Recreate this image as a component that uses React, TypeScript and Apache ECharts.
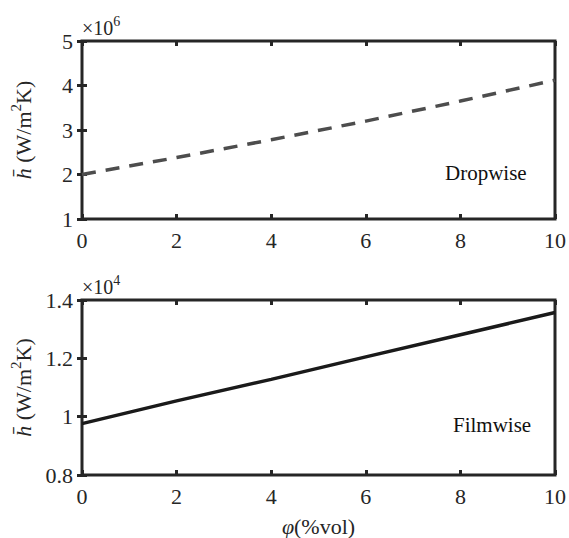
import React, { useEffect, useRef } from "react";
import * as echarts from "echarts";

const phi = [0, 2, 4, 6, 8, 10];
const dropwise = [2.0, 2.38, 2.78, 3.2, 3.65, 4.12]; // ×10^6
const filmwise = [0.976, 1.054, 1.128, 1.205, 1.281, 1.357]; // ×10^4
const xTicks = [0, 2, 4, 6, 8, 10];
const topYTicks = [1, 2, 3, 4, 5];
const botYTicks = [0.8, 1, 1.2, 1.4];

const FONT = "Liberation Serif";
const INK = "#262626";

const yName = {
  rich: {
    i: { fontFamily: FONT, fontStyle: "italic", fontSize: 22, color: INK, lineHeight: 26, verticalAlign: "bottom" },
    n: { fontFamily: FONT, fontSize: 22, color: INK, lineHeight: 26, verticalAlign: "bottom" },
    s: { fontFamily: FONT, fontSize: 15, color: INK, lineHeight: 26, verticalAlign: "top" },
  },
};

export default function App() {
  const ref = useRef<HTMLDivElement>(null);
  useEffect(() => {
    const chart = echarts.init(ref.current!, undefined, { renderer: "svg" });
    const grids = [
      { left: 81, top: 41, width: 478, height: 178 },
      { left: 81, top: 300, width: 478, height: 178 },
    ];
    const mkX = (gi: number, pos: "bottom" | "top", labels: boolean, name?: string) => ({
      type: "value",
      gridIndex: gi,
      position: pos,
      min: 0,
      max: 10,
      interval: 2,
      axisLine: { show: false },
      axisTick: { show: true, inside: true, length: 5, lineStyle: { color: INK, width: 3 } },
      axisLabel: {
        show: labels,
        margin: 10,
        fontFamily: FONT,
        fontSize: 22,
        color: INK,
        formatter: (v: number) => (xTicks.includes(v) ? String(v) : ""),
      },
      splitLine: { show: false },
      name: name,
      nameLocation: "middle",
      nameGap: 40,
      nameTextStyle: name
        ? {
            rich: {
              i: { fontFamily: FONT, fontStyle: "italic", fontSize: 22, color: INK },
              n: { fontFamily: FONT, fontSize: 22, color: INK },
            },
          }
        : undefined,
    });
    const mkY = (
      gi: number,
      pos: "left" | "right",
      labels: boolean,
      min: number,
      max: number,
      interval: number,
      ticks: number[]
    ) => ({
      type: "value",
      gridIndex: gi,
      position: pos,
      min,
      max,
      interval,
      axisLine: { show: false },
      axisTick: { show: true, inside: true, length: 5, lineStyle: { color: INK, width: 3 } },
      axisLabel: {
        show: labels,
        margin: 9,
        fontFamily: FONT,
        fontSize: 22,
        color: INK,
        formatter: (v: number) => {
          const r = Math.round(v * 10) / 10;
          return ticks.some((t) => Math.abs(t - r) < 1e-9) ? String(r) : "";
        },
      },
      splitLine: { show: false },
      name: labels ? "{i|h\u0304}{n| (W/m}{s|2}{n|K)}" : undefined,
      nameLocation: "middle",
      nameGap: 48,
      nameTextStyle: labels ? yName : undefined,
    });

    chart.setOption({
      animation: false,
      backgroundColor: "#ffffff",
      grid: grids.map((g) => ({ ...g, show: true, borderColor: INK, borderWidth: 3, backgroundColor: "transparent" })),
      xAxis: [
        mkX(0, "bottom", true),
        mkX(0, "top", false),
        mkX(1, "bottom", true, "{i|φ}{n|(%vol)}"),
        mkX(1, "top", false),
      ],
      yAxis: [
        mkY(0, "left", true, 1, 5, 1, topYTicks),
        mkY(0, "right", false, 1, 5, 1, topYTicks),
        mkY(1, "left", true, 0.8, 1.4, 0.2, botYTicks),
        mkY(1, "right", false, 0.8, 1.4, 0.2, botYTicks),
      ],
      series: [
        {
          type: "line",
          xAxisIndex: 0,
          yAxisIndex: 0,
          data: phi.map((x, i) => [x, dropwise[i]]),
          symbol: "none",
          lineStyle: { color: "#4d4d4d", width: 3.5, type: [14, 10] },
        },
        {
          type: "line",
          xAxisIndex: 2,
          yAxisIndex: 2,
          data: phi.map((x, i) => [x, filmwise[i]]),
          symbol: "none",
          lineStyle: { color: "#1a1a1a", width: 3.5 },
        },
      ],
      graphic: [
        {
          type: "text",
          left: 82,
          top: 14,
          style: {
            text: "{n|×10}{s|6}",
            rich: {
              n: { fontFamily: FONT, fontSize: 20, fill: INK, lineHeight: 24, verticalAlign: "bottom" },
              s: { fontFamily: FONT, fontSize: 14, fill: INK, lineHeight: 24, verticalAlign: "top" },
            },
          },
        },
        {
          type: "text",
          left: 82,
          top: 273,
          style: {
            text: "{n|×10}{s|4}",
            rich: {
              n: { fontFamily: FONT, fontSize: 20, fill: INK, lineHeight: 24, verticalAlign: "bottom" },
              s: { fontFamily: FONT, fontSize: 14, fill: INK, lineHeight: 24, verticalAlign: "top" },
            },
          },
        },
        {
          type: "text",
          left: 445,
          top: 162,
          style: { text: "Dropwise", fontFamily: FONT, fontSize: 21, fill: "#111" },
        },
        {
          type: "text",
          left: 453,
          top: 414,
          style: { text: "Filmwise", fontFamily: FONT, fontSize: 21, fill: "#111" },
        },
      ],
    });
    return () => chart.dispose();
  }, []);
  return (
    <div
      ref={ref}
      style={{ position: "fixed", left: 0, top: 0, width: 569, height: 538, background: "#fff" }}
    />
  );
}
